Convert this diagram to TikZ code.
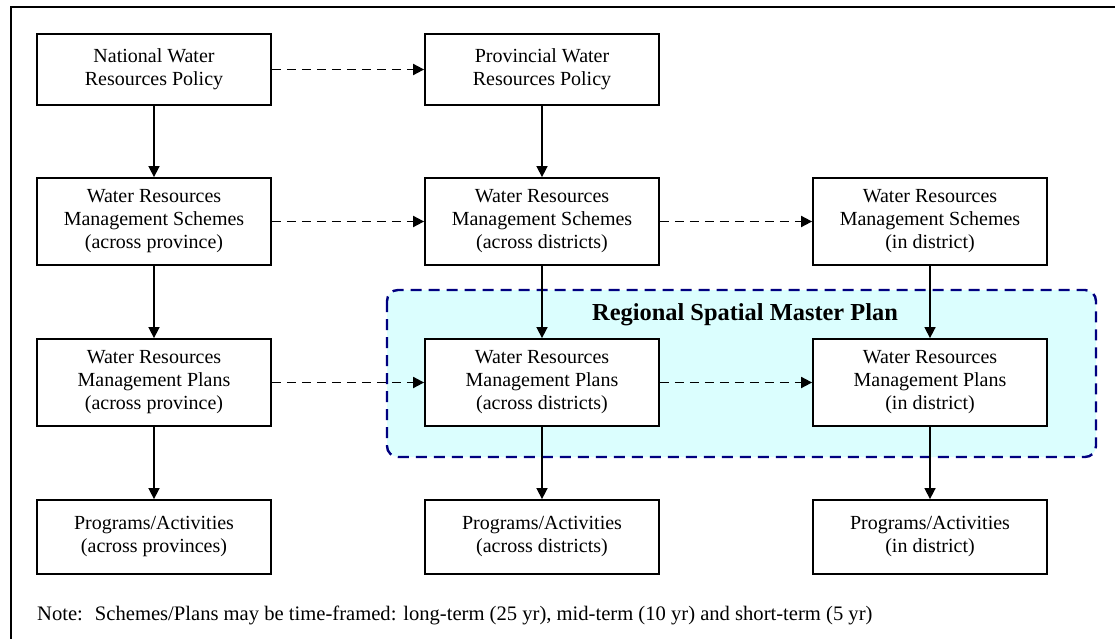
\documentclass[tikz,border=0pt]{standalone}
\usepackage{fontspec}
\setmainfont{Liberation Serif}
\usetikzlibrary{arrows.meta}
\definecolor{regionfill}{HTML}{DBFEFE}
\definecolor{regionline}{HTML}{000080}
\begin{document}
\begin{tikzpicture}[x=1pt,y=-1pt,
  box/.style={draw, line width=1.8pt, fill=white, minimum width=234pt,
    align=center, inner sep=0pt, font=\fontsize{20}{23}\selectfont},
  flow/.style={line width=1.6pt, -{Triangle[length=11pt,width=11pt]}},
  link/.style={flow, line width=1.8pt, dash pattern=on 9pt off 6pt},
  region/.style={draw=regionline, fill=regionfill, line width=2.4pt,
    dash pattern=on 11pt off 7pt, rounded corners=11pt}]
\useasboundingbox (0,0) rectangle (1115,639);

% page frame (only top and left edges fall inside the page)
\draw[line width=2pt] (1120,7) -- (11,7) -- (11,645);

% regional spatial master plan area
\draw[region] (387,290) rectangle (1096,457);
\node[font=\bfseries\fontsize{24.4}{28}\selectfont] (rsmp) at (745,315) {Regional Spatial Master Plan};

% row 1: policies
\node[box, minimum height=71pt] (nat) at (154,69.5) {National Water\\Resources Policy};
\node[box, minimum height=71pt] (prov) at (542,69.5) {Provincial Water\\Resources Policy};

% row 2: schemes
\node[box, minimum height=87pt] (sch1) at (154,221.5) {Water Resources\\Management Schemes\\(across province)};
\node[box, minimum height=87pt] (sch2) at (542,221.5) {Water Resources\\Management Schemes\\(across districts)};
\node[box, minimum height=87pt] (sch3) at (930,221.5) {Water Resources\\Management Schemes\\(in district)};

% row 3: plans
\node[box, minimum height=87pt] (pl1) at (154,382.5) {Water Resources\\Management Plans\\(across province)};
\node[box, minimum height=87pt] (pl2) at (542,382.5) {Water Resources\\Management Plans\\(across districts)};
\node[box, minimum height=87pt] (pl3) at (930,382.5) {Water Resources\\Management Plans\\(in district)};

% row 4: programs
\node[box, minimum height=74pt] (pa1) at (154,537) {Programs/Activities\\(across provinces)};
\node[box, minimum height=74pt] (pa2) at (542,537) {Programs/Activities\\(across districts)};
\node[box, minimum height=74pt] (pa3) at (930,537) {Programs/Activities\\(in district)};

% vertical flow
\draw[flow] (nat) -- (sch1);
\draw[flow] (sch1) -- (pl1);
\draw[flow] (pl1) -- (pa1);
\draw[flow] (prov) -- (sch2);
\draw[flow] (sch2) -- (pl2);
\draw[flow] (pl2) -- (pa2);
\draw[flow] (sch3) -- (pl3);
\draw[flow] (pl3) -- (pa3);

% horizontal links
\draw[link] (nat) -- (prov);
\draw[link] (sch1) -- (sch2);
\draw[link] (sch2) -- (sch3);
\draw[link] (pl1) -- (pl2);
\draw[link] (pl2) -- (pl3);

% note
\node[anchor=west, inner sep=0pt, font=\fontsize{20.6}{24}\selectfont] (note) at (37,615)
  {Note:\hspace{12pt}Schemes/Plans may be time-framed: long-term (25 yr), mid-term (10 yr) and short-term (5 yr)};
\end{tikzpicture}
\end{document}
